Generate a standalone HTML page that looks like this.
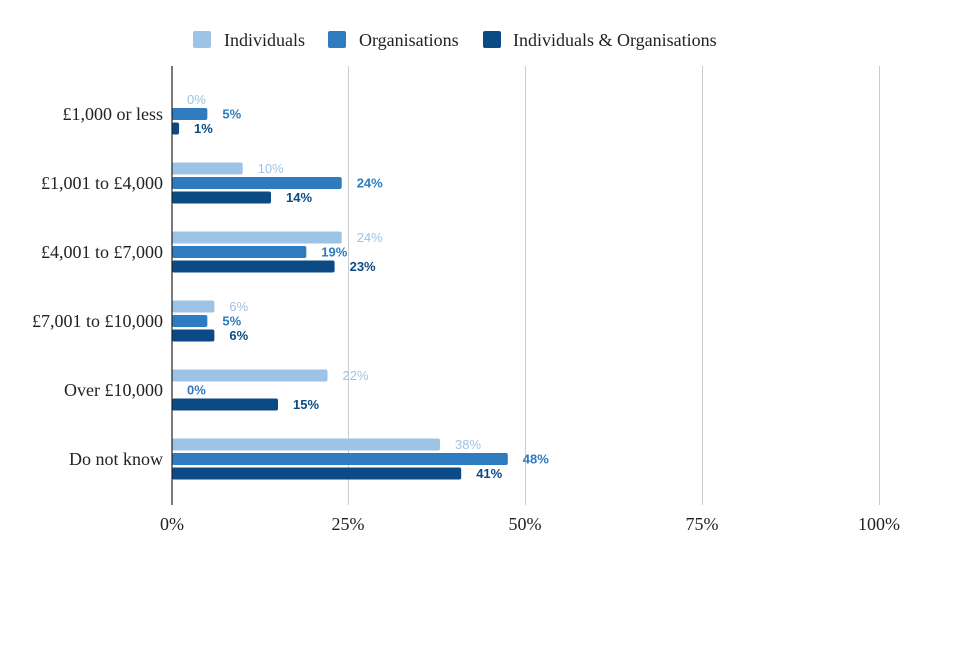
<!DOCTYPE html>
<html><head><meta charset="utf-8"><style>body{margin:0;background:#fff}</style></head><body>
<svg width="960" height="640" xmlns="http://www.w3.org/2000/svg">
<rect width="960" height="640" fill="#fff"/>
<g stroke="#ccc" stroke-width="1">
<line x1="348.5" y1="66" x2="348.5" y2="505"/>
<line x1="525.5" y1="66" x2="525.5" y2="505"/>
<line x1="702.5" y1="66" x2="702.5" y2="505"/>
<line x1="879.5" y1="66" x2="879.5" y2="505"/>
</g>
<g font-family="Liberation Serif, serif" font-size="18" fill="#222">
<rect x="193" y="31" width="18" height="17" rx="2" fill="#9dc3e6"/><text x="224" y="46">Individuals</text>
<rect x="328" y="31" width="18" height="17" rx="2" fill="#2e7bbf"/><text x="359" y="46">Organisations</text>
<rect x="483" y="31" width="18" height="17" rx="2" fill="#0b4a84"/><text x="513" y="46">Individuals &amp; Organisations</text>
<g text-anchor="end">
<text x="163" y="120">£1,000 or less</text>
<text x="163" y="189">£1,001 to £4,000</text>
<text x="163" y="258">£4,001 to £7,000</text>
<text x="163" y="327">£7,001 to £10,000</text>
<text x="163" y="396">Over £10,000</text>
<text x="163" y="465">Do not know</text>
</g>
<g text-anchor="middle">
<text x="172" y="530">0%</text><text x="348" y="530">25%</text><text x="525" y="530">50%</text><text x="702" y="530">75%</text><text x="879" y="530">100%</text>
</g>
</g>
<g>
<rect x="172" y="108" width="35.35" height="12" rx="2" fill="#2e7bbf"/>
<rect x="172" y="122.5" width="7.07" height="12" rx="2" fill="#0b4a84"/>
<rect x="172" y="162.5" width="70.7" height="12" rx="2" fill="#9dc3e6"/>
<rect x="172" y="177" width="169.7" height="12" rx="2" fill="#2e7bbf"/>
<rect x="172" y="191.5" width="99" height="12" rx="2" fill="#0b4a84"/>
<rect x="172" y="231.5" width="169.7" height="12" rx="2" fill="#9dc3e6"/>
<rect x="172" y="246" width="134.3" height="12" rx="2" fill="#2e7bbf"/>
<rect x="172" y="260.5" width="162.6" height="12" rx="2" fill="#0b4a84"/>
<rect x="172" y="300.5" width="42.4" height="12" rx="2" fill="#9dc3e6"/>
<rect x="172" y="315" width="35.35" height="12" rx="2" fill="#2e7bbf"/>
<rect x="172" y="329.5" width="42.4" height="12" rx="2" fill="#0b4a84"/>
<rect x="172" y="369.5" width="155.5" height="12" rx="2" fill="#9dc3e6"/>
<rect x="172" y="398.5" width="106" height="12" rx="2" fill="#0b4a84"/>
<rect x="172" y="438.5" width="268" height="12" rx="2" fill="#9dc3e6"/>
<rect x="172" y="453" width="335.8" height="12" rx="2" fill="#2e7bbf"/>
<rect x="172" y="467.5" width="289.2" height="12" rx="2" fill="#0b4a84"/>
</g>
<g font-family="Liberation Sans, sans-serif" font-size="13">
<g fill="#9dc3e6">
<text x="187" y="104">0%</text><text x="257.7" y="173">10%</text><text x="356.7" y="242">24%</text><text x="229.4" y="311">6%</text><text x="342.5" y="380">22%</text><text x="455" y="449">38%</text>
</g>
<g fill="#2e7bbf" font-weight="bold">
<text x="222.35" y="118.5">5%</text><text x="356.7" y="187.5">24%</text><text x="321.3" y="256.5">19%</text><text x="222.35" y="325.5">5%</text><text x="187" y="394.5">0%</text><text x="522.8" y="463.5">48%</text>
</g>
<g fill="#0b4a84" font-weight="bold">
<text x="194" y="133">1%</text><text x="286" y="202">14%</text><text x="349.6" y="271">23%</text><text x="229.4" y="340">6%</text><text x="293" y="409">15%</text><text x="476.2" y="478">41%</text>
</g>
</g>
<line x1="172" y1="66" x2="172" y2="505" stroke="#222" stroke-width="1.2"/>
</svg>
</body></html>
